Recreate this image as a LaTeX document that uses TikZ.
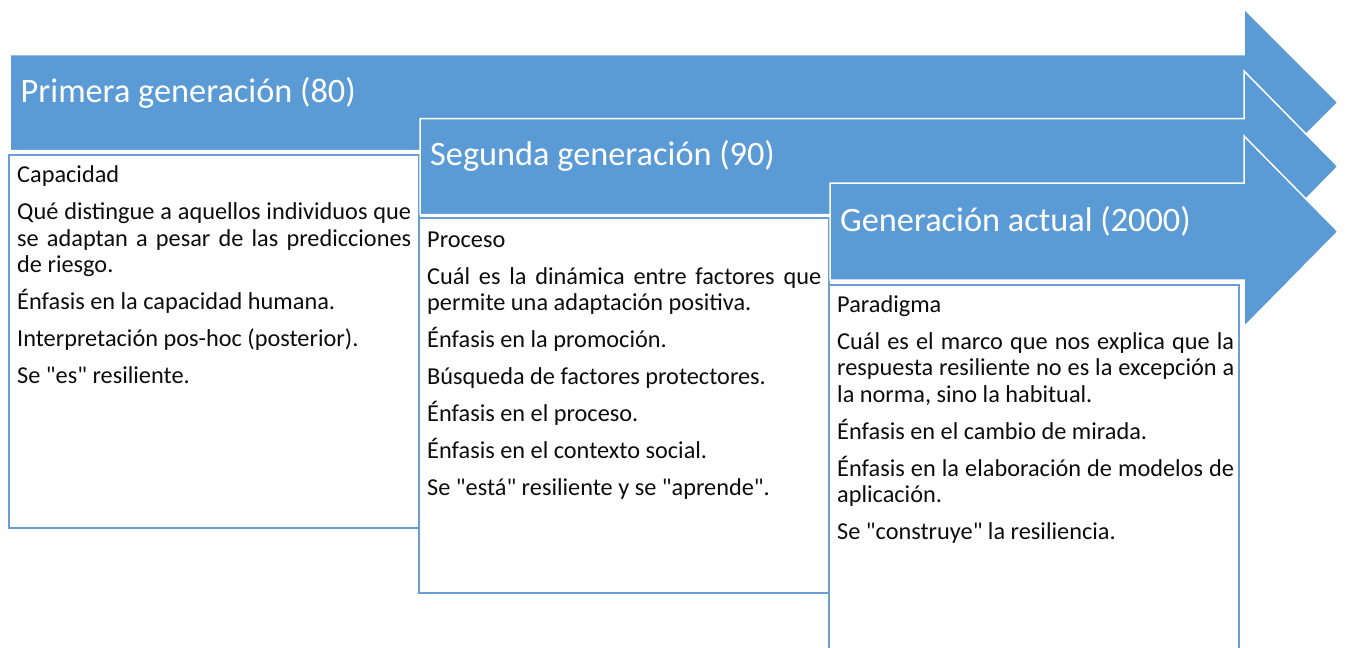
\documentclass[tikz,border=0pt]{standalone}
\usepackage{fontspec}
\setmainfont{Carlito}[Ligatures=TeXOff]
\definecolor{arrowblue}{HTML}{5B9BD5}
\definecolor{boxblue}{HTML}{6A9FD6}
\definecolor{bodyink}{HTML}{0D0D0D}
\newcommand{\bodysetup}{\fontsize{24.3}{26.5}\selectfont\setlength{\parskip}{10.5pt}\hyphenpenalty10000 \exhyphenpenalty10000 \spaceskip=\fontdimen2\font plus 1.5\fontdimen2\font minus 0pt\relax\emergencystretch=20pt\relax}
\begin{document}
\begin{tikzpicture}[x=1pt,y=-1pt,
  genarrow/.style={fill=arrowblue, draw=white, line width=1.5pt, line join=miter},
  genbox/.style={draw=boxblue, line width=2.5pt, fill=white},
  gentitle/.style={anchor=base west, inner sep=0pt, text=white, font={\fontsize{34.3}{40}\selectfont}},
  gentext/.style={anchor=north west, inner sep=0pt, text width=394pt, align=justify, text=bodyink,
    font={\bodysetup}}]
\useasboundingbox (0,0) rectangle (1347,648);
\clip (0,0) rectangle (1347,648);
% arrow 1
\fill[genarrow] (10,54.5) -- (1244,54.5) -- (1244,8.5) -- (1338,102.5) -- (1244,196.5) -- (1244,150.5) -- (10,150.5) -- cycle;
\node[gentitle] (t1) at (20.5,102) {Primera generación (80)};
\draw[genbox] (9,155) rectangle (419,528);
\node[gentext] (b1) at (17,164) {\strut Capacidad\par
Qué distingue a aquellos individuos que se adaptan a pesar de las predicciones de riesgo.\par
Énfasis en la capacidad humana.\par
Interpretación pos-hoc (posterior).\par
Se "es" resiliente.};
% arrow 2
\fill[genarrow] (420,118.5) -- (1244,118.5) -- (1244,71) -- (1338,166.5) -- (1244,262) -- (1244,214.5) -- (420,214.5) -- cycle;
\node[gentitle] (t2) at (430,165) {Segunda generación (90)};
\draw[genbox] (419,218) rectangle (829,593);
\node[gentext] (b2) at (427,228.5) {\strut Proceso\par
Cuál es la dinámica entre factores que permite una adaptación positiva.\par
Énfasis en la promoción.\par
Búsqueda de factores protectores.\par
Énfasis en el proceso.\par
Énfasis en el contexto social.\par
Se "está" resiliente y se "aprende".};
% arrow 3
\fill[genarrow] (830,183) -- (1244,183) -- (1244,136) -- (1338,231.5) -- (1244,327) -- (1244,280) -- (830,280) -- cycle;
\node[gentitle] (t3) at (840,231) {Generación actual (2000)};
\draw[genbox] (829,285) rectangle (1239,670);
\node[gentext, text width=397pt] (b3) at (837,293.5) {\strut Paradigma\par
Cuál es el marco que nos explica que la respuesta resiliente no es la excepción a la norma, sino la habitual.\par
Énfasis en el cambio de mirada.\par
Énfasis en la elaboración de modelos de aplicación.\par
Se "construye" la resiliencia.};
\end{tikzpicture}
\end{document}
